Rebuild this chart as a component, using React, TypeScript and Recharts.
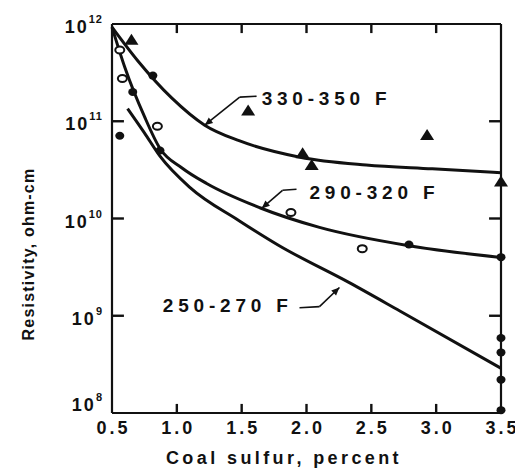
import React from 'react';
import { ComposedChart, Line, Scatter, XAxis, YAxis, ReferenceLine, ReferenceDot } from 'recharts';

const xTicks = [0.5, 1.0, 1.5, 2.0, 2.5, 3.0, 3.5];
const yTicks = [1e8, 1e9, 1e10, 1e11, 1e12];

// Curve 330-350 F
const c330x = [0.5, 0.7, 0.96, 1.215, 1.48, 1.95, 2.46, 2.97, 3.5];
const c330y = [9.3e11, 4.17e11, 1.74e11, 9.12e10, 6.31e10, 4.27e10, 3.55e10, 3.24e10, 2.95e10];
// Curve 290-320 F
const c290x = [0.5, 0.6, 0.75, 0.87, 1.04, 1.23, 1.64, 2.1, 2.79, 3.5];
const c290y = [9.3e11, 3.55e11, 1.12e11, 5.25e10, 3.31e10, 2.29e10, 1.29e10, 8.1e9, 5.25e9, 3.98e9];
// Curve 250-270 F
const c250x = [0.62, 0.75, 0.87, 1.1, 1.48, 1.79, 2.33, 2.72, 3.5];
const c250y = [1.35e11, 7.6e10, 4.37e10, 2.09e10, 9.5e9, 5.25e9, 2.19e9, 1.12e9, 2.88e8];

// Measured points
const triX = [0.65, 1.55, 1.97, 2.04, 2.93, 3.5];
const triY = [6.9e11, 1.29e11, 4.7e10, 3.55e10, 7.2e10, 2.4e10];
const dotX = [0.815, 0.56, 0.66, 0.87, 2.79, 3.5, 3.5, 3.5, 3.5, 3.5];
const dotY = [2.95e11, 7.1e10, 2.0e11, 5.0e10, 5.4e9, 4.0e9, 5.9e8, 4.2e8, 2.2e8, 1.07e8];
const openX = [0.56, 0.58, 0.85, 1.88, 2.43];
const openY = [5.4e11, 2.75e11, 8.9e10, 1.15e10, 4.9e9];

// Annotations
const labelText = ['330-350 F', '290-320 F', '250-270 F'];
const labelX = [1.654, 2.023, 0.892];
const labelY = [1.73e11, 1.85e10, 1.27e9];
const leaderX = [[1.615, 1.485, 1.215], [1.923, 1.815, 1.654], [1.946, 2.1, 2.254]];
const leaderY = [[1.81e11, 1.77e11, 9.1e10], [2.0e10, 1.95e10, 1.27e10], [1.21e9, 1.24e9, 1.95e9]];

const zip = (xs: number[], ys: number[]) => xs.map((x, i) => ({ x, y: ys[i] }));

const FONT = '"Liberation Sans", Arial, sans-serif';
const INK = '#111';
const X0 = 0.5, X1 = 3.5, Y0 = 1e8, Y1 = 1e12;
// inward tick length in axis units (about 9 px vertically, 12 px horizontally)
const TICK_FY = 1.24;
const TICK_DX = 0.092;

const innerX = xTicks.filter((t) => t > X0 && t < X1);
const innerY = yTicks.filter((t) => t > Y0 && t < Y1);
const tickSegments = [
  ...innerX.map((t) => [{ x: t, y: Y0 }, { x: t, y: Y0 * TICK_FY }]),
  ...innerX.map((t) => [{ x: t, y: Y1 }, { x: t, y: Y1 / TICK_FY }]),
  ...innerY.map((t) => [{ x: X0, y: t }, { x: X0 + TICK_DX, y: t }]),
  ...innerY.map((t) => [{ x: X1, y: t }, { x: X1 - TICK_DX, y: t }]),
];

const XTick = (p: any) => (
  <text x={p.x} y={p.y} dx={1.5} textAnchor="middle" dominantBaseline="central"
    fontFamily={FONT} fontSize={18} fontWeight="bold" letterSpacing={3} fill={INK}>
    {Number(p.payload.value).toFixed(1)}
  </text>
);

const YTick = (p: any) => {
  const exp = Math.round(Math.log10(p.payload.value));
  const shift = p.index === 0 ? -8 : 3;
  return (
    <text x={p.x} y={p.y + shift} textAnchor="end" dominantBaseline="central"
      fontFamily={FONT} fontSize={18} fontWeight="bold" letterSpacing={2} fill={INK}>
      10<tspan dy={-8} fontSize={11} letterSpacing={1}>{exp}</tspan>
    </text>
  );
};

const Tri = (p: any) => (
  <polygon points={`${p.cx},${p.cy - 6} ${p.cx + 7},${p.cy + 5} ${p.cx - 7},${p.cy + 5}`} fill={INK} />
);
const Dot = (p: any) => <ellipse cx={p.cx} cy={p.cy} rx={4.5} ry={4} fill={INK} />;
const Open = (p: any) => <ellipse cx={p.cx} cy={p.cy} rx={4.5} ry={3.5} fill="#fff" stroke={INK} strokeWidth={2} />;

const ArrowLine = (p: any) => {
  const { x1, y1, x2, y2 } = p;
  const ang = Math.atan2(y2 - y1, x2 - x1);
  const L = 8, W = 3.5;
  const bx = x2 - L * Math.cos(ang), by = y2 - L * Math.sin(ang);
  const px = -Math.sin(ang) * W, py = Math.cos(ang) * W;
  return (
    <g>
      <line x1={x1} y1={y1} x2={x2} y2={y2} stroke={INK} strokeWidth={1.6} />
      <polygon points={`${x2},${y2} ${bx + px},${by + py} ${bx - px},${by - py}`} fill={INK} />
    </g>
  );
};

const LabelShape = (text: string) => (p: any) => (
  <text x={p.cx} y={p.cy} dominantBaseline="central" fontFamily={FONT} fontSize={19}
    fontWeight="bold" letterSpacing={4.8} fill={INK}>{text}</text>
);

export default function App() {
  return (
    <ComposedChart width={523} height={472} margin={{ top: 15, right: 29, bottom: 7, left: 0 }}>
      <XAxis xAxisId="b" type="number" dataKey="x" domain={[X0, X1]} ticks={xTicks}
        orientation="bottom" height={60} tickSize={0} tickMargin={15} tick={<XTick />} tickLine={false}
        axisLine={{ stroke: INK, strokeWidth: 2.2 }}
        label={{ content: (lp: any) => (
          <text x={lp.viewBox.x + 172} y={lp.viewBox.y + 45} textAnchor="middle" dominantBaseline="central"
            fontFamily={FONT} fontSize={18} fontWeight="bold" letterSpacing={3.4} fill={INK}>Coal sulfur, percent</text>
        ) }} />
      <XAxis xAxisId="t" type="number" dataKey="x" domain={[X0, X1]} ticks={xTicks}
        orientation="top" height={1} tickSize={0} tick={false} tickLine={false}
        axisLine={{ stroke: INK, strokeWidth: 2 }} />
      <YAxis yAxisId="l" type="number" dataKey="y" scale="log" domain={[Y0, Y1]} ticks={yTicks}
        orientation="left" width={104} tickSize={0} tickMargin={9} tick={<YTick />} tickLine={false}
        axisLine={{ stroke: INK, strokeWidth: 2.2 }}
        label={{ content: () => {
          const cx = 20, cy = 246;
          return (
            <text x={cx} y={cy} transform={`rotate(-90 ${cx} ${cy})`} textAnchor="middle" dominantBaseline="central"
              fontFamily={FONT} fontSize={16} letterSpacing={1.2} fill={INK} fontWeight="bold">Resistivity, ohm-cm</text>
          );
        } }} />
      <YAxis yAxisId="r" type="number" dataKey="y" scale="log" domain={[Y0, Y1]} ticks={yTicks}
        orientation="right" width={1} tickSize={0} tick={false} tickLine={false}
        axisLine={{ stroke: INK, strokeWidth: 2.2 }} />

      {tickSegments.map((seg, i) => (
        <Line key={'tick' + i} xAxisId="b" yAxisId="l" data={seg} dataKey="y" type="linear"
          stroke={INK} strokeWidth={2.4} dot={false} activeDot={false} isAnimationActive={false} />
      ))}

      <Line xAxisId="b" yAxisId="l" data={zip(c330x, c330y)} dataKey="y" type="monotone" stroke={INK} strokeWidth={3} dot={false} isAnimationActive={false} />
      <Line xAxisId="b" yAxisId="l" data={zip(c290x, c290y)} dataKey="y" type="monotone" stroke={INK} strokeWidth={3} dot={false} isAnimationActive={false} />
      <Line xAxisId="b" yAxisId="l" data={zip(c250x, c250y)} dataKey="y" type="monotone" stroke={INK} strokeWidth={3} dot={false} isAnimationActive={false} />

      <Scatter xAxisId="b" yAxisId="l" data={zip(triX, triY)} dataKey="y" shape={Tri} isAnimationActive={false} />
      <Scatter xAxisId="b" yAxisId="l" data={zip(dotX, dotY)} dataKey="y" shape={Dot} isAnimationActive={false} />
      <Scatter xAxisId="b" yAxisId="l" data={zip(openX, openY)} dataKey="y" shape={Open} isAnimationActive={false} />

      {leaderX.map((xs, i) => (
        <ReferenceLine key={'a' + i} xAxisId="b" yAxisId="l" segment={[{ x: xs[0], y: leaderY[i][0] }, { x: xs[1], y: leaderY[i][1] }]}
          stroke={INK} strokeWidth={1.6} ifOverflow="visible" />
      ))}
      {leaderX.map((xs, i) => (
        <ReferenceLine key={'b' + i} xAxisId="b" yAxisId="l" segment={[{ x: xs[1], y: leaderY[i][1] }, { x: xs[2], y: leaderY[i][2] }]}
          shape={ArrowLine} ifOverflow="visible" />
      ))}
      {labelText.map((t, i) => (
        <ReferenceDot key={'l' + i} xAxisId="b" yAxisId="l" x={labelX[i]} y={labelY[i]} r={0}
          shape={LabelShape(t)} ifOverflow="visible" />
      ))}
    </ComposedChart>
  );
}
